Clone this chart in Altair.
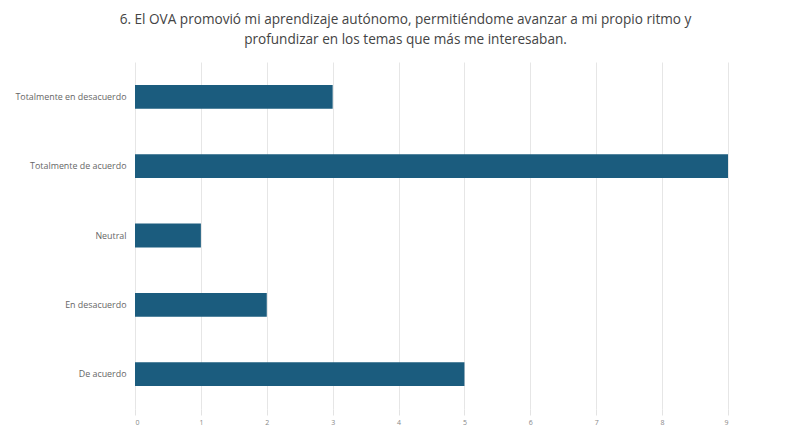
import altair as alt
import pandas as pd

categories = ["Totalmente en desacuerdo", "Totalmente de acuerdo", "Neutral", "En desacuerdo", "De acuerdo"]
values = [3, 9, 1, 2, 5]
x_ticks = [0, 1, 2, 3, 4, 5, 6, 7, 8, 9]
title_lines = [
    "6. El OVA promovió mi aprendizaje autónomo, permitiéndome avanzar a mi propio ritmo y",
    "profundizar en los temas que más me interesaban.",
]

df = pd.DataFrame({"categoria": categories, "valor": values})

chart = (
    alt.Chart(df)
    .mark_bar(color="#1b5c7e")
    .encode(
        x=alt.X(
            "valor:Q",
            scale=alt.Scale(domain=[0, 9], nice=False),
            axis=alt.Axis(
                values=x_ticks,
                title=None,
                domain=False,
                ticks=True,
                tickColor="#e3e3e3",
                tickSize=6,
                gridColor="#e6e6e6",
                labelFont="Open Sans",
                labelFontSize=7,
                labelColor="#888888",
                labelPadding=3,
            ),
        ),
        y=alt.Y(
            "categoria:N",
            sort=categories,
            scale=alt.Scale(paddingInner=0.657, paddingOuter=0.33),
            axis=alt.Axis(
                title=None,
                domain=False,
                ticks=False,
                grid=False,
                labelFont="Open Sans",
                labelFontSize=8.9,
                labelColor="#666666",
                labelPadding=9,
                minExtent=127,
                maxExtent=127,
            ),
        ),
    )
    .properties(
        width=593,
        height=347,
        padding={"top": 5, "left": 0, "right": 0, "bottom": 0},
        title=alt.TitleParams(
            text=title_lines,
            font="Open Sans",
            fontSize=13.6,
            fontWeight="normal",
            color="#444444",
            lineHeight=20,
            anchor="middle",
            dx=-26,
            offset=15,
        ),
    )
    .configure_view(stroke=None)
)

chart.save("out.html", embed_options={"renderer": "svg", "actions": False})
